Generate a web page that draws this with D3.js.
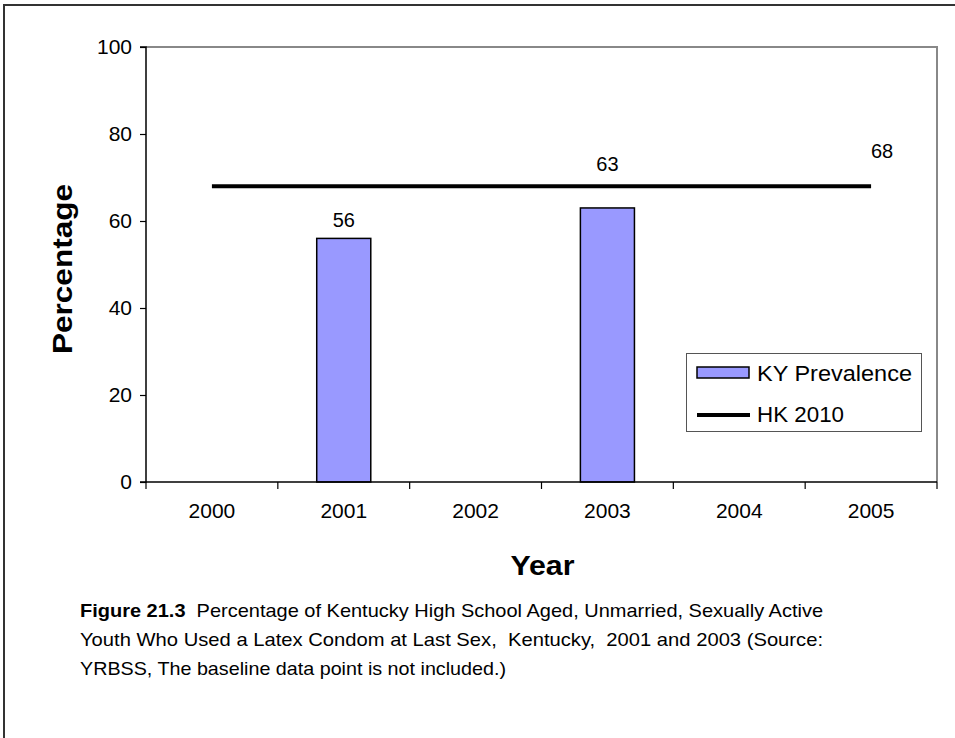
<!DOCTYPE html>
<html>
<head>
<meta charset="utf-8">
<script src="https://cdn.jsdelivr.net/npm/d3@7"></script>
<style>
  html, body { margin: 0; padding: 0; background: #fff; }
  svg { display: block; font-family: "Liberation Sans", Arial, sans-serif; }
</style>
</head>
<body>
<svg id="chart" width="955" height="738"></svg>
<script>
const years = ["2000", "2001", "2002", "2003", "2004", "2005"];
const kyPrevalence = [null, 56, null, 63, null, null];
const hk2010 = [68, 68, 68, 68, 68, 68];
const yTicks = [0, 20, 40, 60, 80, 100];
const seriesNames = ["KY Prevalence", "HK 2010"];
const yTitle = "Percentage";
const xTitle = "Year";
const captionBold = "Figure 21.3";
const captionLines = [
  "  Percentage of Kentucky High School Aged, Unmarried, Sexually Active",
  "Youth Who Used a Latex Condom at Last Sex,  Kentucky,  2001 and 2003 (Source:",
  "YRBSS, The baseline data point is not included.)"
];

const svg = d3.select("#chart");
const plot = { left: 146, right: 937, top: 47, bottom: 482 };

// outer frame (top and left visible)
svg.append("path")
  .attr("d", `M4,738 L4,5 L955,5`)
  .attr("fill", "none").attr("stroke", "#333").attr("stroke-width", 2);

const x = d3.scaleBand().domain(years).range([plot.left, plot.right]).paddingInner(0).paddingOuter(0);
const y = d3.scaleLinear().domain([0, 100]).range([plot.bottom, plot.top]);

// plot area border top & right (gray)
svg.append("path")
  .attr("d", `M${plot.left},${plot.top} L${plot.right},${plot.top} L${plot.right},${plot.bottom}`)
  .attr("fill", "none").attr("stroke", "#888").attr("stroke-width", 2);

// bars
const barW = x.bandwidth() * 0.41;
const barData = years.map((yr, i) => ({ yr, v: kyPrevalence[i] })).filter(d => d.v != null);
svg.append("g").selectAll("rect").data(barData).enter().append("rect")
  .attr("x", d => x(d.yr) + x.bandwidth() / 2 - barW / 2)
  .attr("y", d => y(d.v))
  .attr("width", barW)
  .attr("height", d => y(0) - y(d.v))
  .attr("fill", "#9999FF")
  .attr("stroke", "#000").attr("stroke-width", 1.5);

// HK 2010 line
const lineData = years.map((yr, i) => ({ yr, v: hk2010[i] }));
const line = d3.line().x(d => x(d.yr) + x.bandwidth() / 2).y(d => y(d.v));
svg.append("path").datum(lineData)
  .attr("d", line)
  .attr("fill", "none").attr("stroke", "#000").attr("stroke-width", 4);

// Axes
const yAxis = d3.axisLeft(y).tickValues(yTicks).tickSize(6).tickPadding(8).tickFormat(d3.format("d"));
const gy = svg.append("g").attr("transform", `translate(${plot.left},0)`).call(yAxis);
gy.select(".domain").attr("stroke", "#000").attr("stroke-width", 1.5).attr("d", `M-6,${plot.top}H0V${plot.bottom}H-6`);
gy.selectAll(".tick line").attr("stroke", "#000").attr("stroke-width", 1.2);
gy.selectAll(".tick text").attr("font-size", 21).attr("fill", "#000")
  .attr("font-family", "Liberation Sans, Arial, sans-serif");

const xEdges = d3.scaleLinear().domain([0, years.length]).range([plot.left, plot.right]);
const gx = svg.append("g").attr("transform", `translate(0,${plot.bottom})`);
gx.append("line").attr("x1", plot.left).attr("x2", plot.right).attr("stroke", "#000").attr("stroke-width", 1.5);
gx.selectAll("line.tk").data(d3.range(years.length + 1)).enter().append("line")
  .attr("class", "tk")
  .attr("x1", d => xEdges(d)).attr("x2", d => xEdges(d))
  .attr("y1", 0).attr("y2", 7).attr("stroke", "#000").attr("stroke-width", 1.2);
gx.selectAll("text").data(years).enter().append("text")
  .attr("x", d => x(d) + x.bandwidth() / 2)
  .attr("y", 36)
  .attr("text-anchor", "middle")
  .attr("font-size", 21)
  .text(d => d);

// data labels
barData.forEach(d => {
  let ly = y(d.v) - 18;
  const lineY = y(hk2010[years.indexOf(d.yr)]);
  if (Math.abs(ly - lineY) < 16) ly = lineY - 22;
  svg.append("text")
    .attr("x", x(d.yr) + x.bandwidth() / 2)
    .attr("y", ly)
    .attr("dy", "0.35em")
    .attr("text-anchor", "middle")
    .attr("font-size", 20)
    .text(d.v);
});
// label for last line point
const lastI = years.length - 1;
svg.append("text")
  .attr("x", x(years[lastI]) + x.bandwidth() / 2 + 11)
  .attr("y", y(hk2010[lastI]) - 35)
  .attr("dy", "0.35em")
  .attr("text-anchor", "middle")
  .attr("font-size", 20)
  .text(hk2010[lastI]);

// Axis titles
svg.append("text")
  .attr("transform", `translate(72,${269}) rotate(-90)`)
  .attr("text-anchor", "middle")
  .attr("font-size", 27).attr("font-weight", "bold")
  .attr("textLength", 170).attr("lengthAdjust", "spacingAndGlyphs")
  .text(yTitle);
svg.append("text")
  .attr("x", (plot.left + plot.right) / 2 + 1)
  .attr("y", 575)
  .attr("text-anchor", "middle")
  .attr("font-size", 28).attr("font-weight", "bold")
  .attr("textLength", 64).attr("lengthAdjust", "spacingAndGlyphs")
  .text(xTitle);

// Legend
const lg = svg.append("g");
lg.append("rect").attr("x", 686.5).attr("y", 353.5).attr("width", 235).attr("height", 78)
  .attr("fill", "#fff").attr("stroke", "#555").attr("stroke-width", 1);
lg.append("rect").attr("x", 697).attr("y", 367).attr("width", 52).attr("height", 11)
  .attr("fill", "#9999FF").attr("stroke", "#000").attr("stroke-width", 1.5);
lg.append("line").attr("x1", 697).attr("x2", 750).attr("y1", 415).attr("y2", 415)
  .attr("stroke", "#000").attr("stroke-width", 4);
lg.append("text").attr("x", 757).attr("y", 373).attr("dy", "0.35em").attr("font-size", 22)
  .attr("textLength", 155).attr("lengthAdjust", "spacingAndGlyphs").text(seriesNames[0]);
lg.append("text").attr("x", 757).attr("y", 414).attr("dy", "0.35em").attr("font-size", 22)
  .attr("textLength", 87).attr("lengthAdjust", "spacingAndGlyphs").text(seriesNames[1]);

// Caption
const cap = svg.append("g").attr("font-family", "'Liberation Sans', Arial, sans-serif").attr("font-size", 19);
const t1 = cap.append("text").attr("x", 80).attr("y", 617).attr("textLength", 743).attr("lengthAdjust", "spacingAndGlyphs")
  .style("white-space", "pre");
t1.append("tspan").attr("font-weight", "bold").text(captionBold);
t1.append("tspan").style("white-space", "pre").text(captionLines[0]);
cap.append("text").attr("x", 80).attr("y", 646).attr("textLength", 743).attr("lengthAdjust", "spacingAndGlyphs")
  .style("white-space", "pre").text(captionLines[1]);
cap.append("text").attr("x", 80).attr("y", 675).attr("textLength", 426).attr("lengthAdjust", "spacingAndGlyphs")
  .style("white-space", "pre").text(captionLines[2]);
</script>
</body>
</html>
